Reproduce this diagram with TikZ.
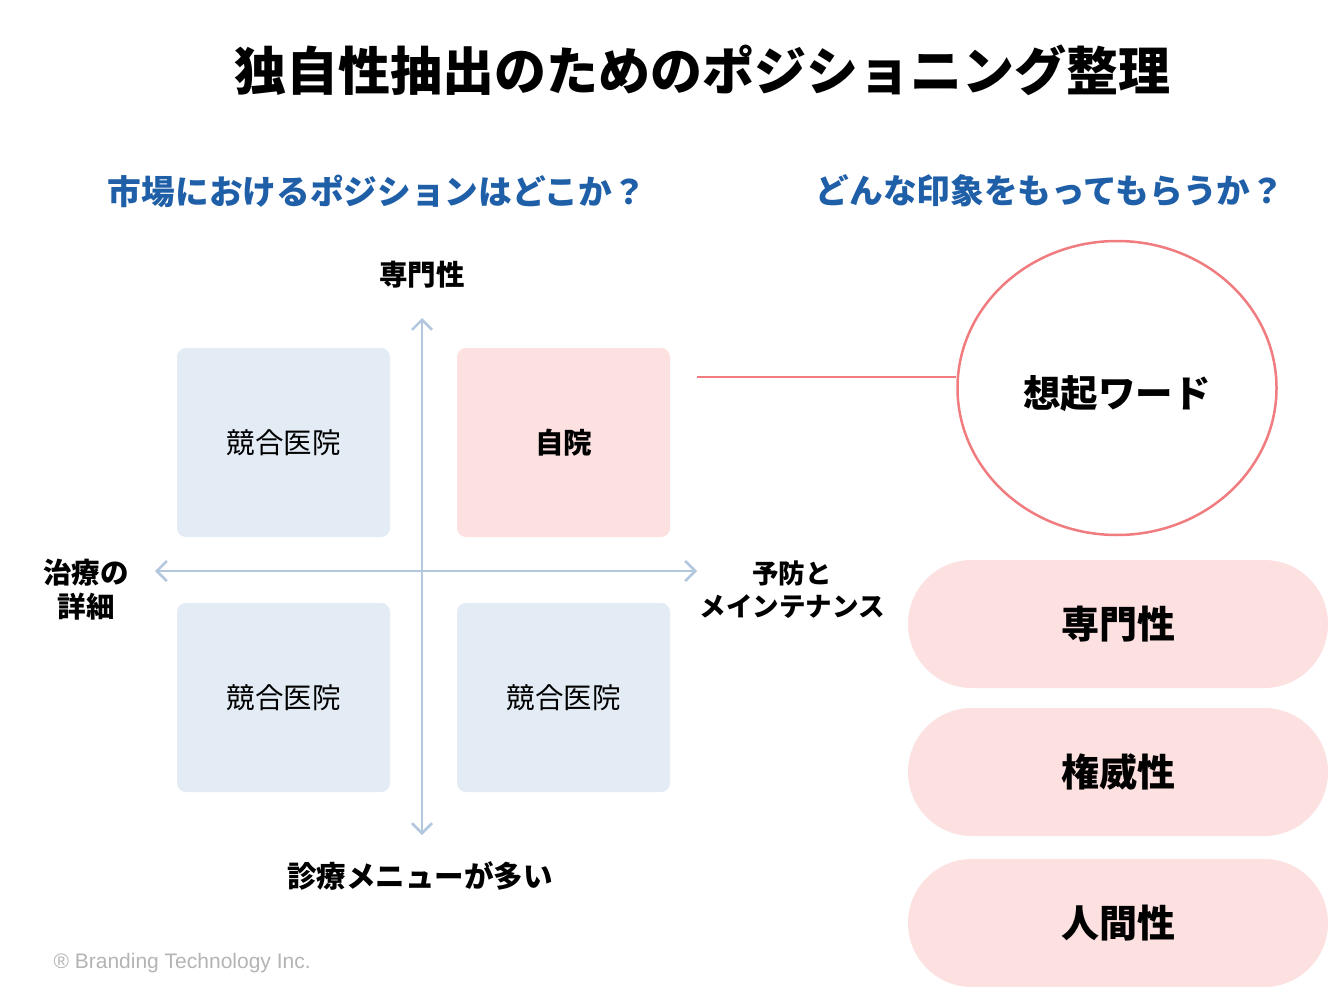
\documentclass[tikz,border=0pt]{standalone}
\usepackage{fontspec}
\setmainfont{Noto Sans CJK JP}
\newfontfamily\latinfont{Liberation Sans}
\usetikzlibrary{arrows.meta,shapes.geometric}
\definecolor{axisblue}{HTML}{B3C7DF}
\definecolor{boxblue}{HTML}{E3EBF5}
\definecolor{boxpink}{HTML}{FDE0E0}
\definecolor{linepink}{HTML}{F07C80}
\definecolor{subblue}{HTML}{1F5FA8}
\definecolor{copygray}{HTML}{B4B4B4}
\tikzset{
  quad/.style={rectangle, rounded corners=9pt, minimum width=213pt, minimum height=189pt, inner sep=0pt, font=\fontsize{28.5}{34}\selectfont},
  pill/.style={rectangle, rounded corners=64pt, fill=boxpink, minimum width=420pt, minimum height=128pt, inner sep=0pt, font=\fontsize{38}{44}\selectfont\bfseries},
  axis/.style={draw=axisblue, line width=2.6pt, {Straight Barb[length=10pt,width=20pt]}-{Straight Barb[length=10pt,width=20pt]}},
  axlabel/.style={font=\fontsize{28.5}{34}\selectfont\bfseries, align=center},
  subtitle/.style={text=subblue, font=\fontsize{33.7}{40}\selectfont\bfseries}
}
\begin{document}
\begin{tikzpicture}[x=1pt,y=-1pt]
\path[use as bounding box, fill=white] (0,0) rectangle (1338,987);
% title
\node[font=\fontsize{52}{60}\selectfont\bfseries] (title) at (702,70) {独自性抽出のためのポジショニング整理};
\node[subtitle] (subL) at (377,191) {市場におけるポジションはどこか？};
\node[subtitle] (subR) at (1050,191) {どんな印象をもってもらうか？};
% quadrants
\node[quad, fill=boxblue] (q1) at (283.5,442.5) {競合医院};
\node[quad, fill=boxpink, font=\fontsize{28.5}{34}\selectfont\bfseries] (q2) at (563.5,442.5) {自院};
\node[quad, fill=boxblue] (q3) at (283.5,697.5) {競合医院};
\node[quad, fill=boxblue] (q4) at (563.5,697.5) {競合医院};
% axes
\coordinate (axT) at (422,318);
\coordinate (axB) at (422,835);
\coordinate (axL) at (155,571);
\coordinate (axR) at (697,571);
\draw[axis] (axB) -- (axT);
\draw[axis] (axL) -- (axR);
% axis labels
\node[axlabel] (labT) at (422,275) {専門性};
\node[axlabel, font=\fontsize{29.5}{34}\selectfont\bfseries] (labB) at (420,876) {診療メニューが多い};
\node[axlabel] (labL) at (86,590) {治療の\\詳細};
\node[axlabel, font=\fontsize{26.5}{33}\selectfont\bfseries] (labR) at (792,590) {予防と\\メインテナンス};
% circle
\node[ellipse, draw=linepink, line width=2.5pt, fill=white, minimum width=319pt, minimum height=294pt, inner sep=0pt] (circ) at (1117,388) {};
\node[font=\fontsize{37.5}{44}\selectfont\bfseries] (circT) at (1117,394) {想起ワード};
\coordinate (lineStart) at (697,377);
\draw[linepink, line width=2.5pt] (lineStart) -- (lineStart -| circ.west);
% pills
\node[pill] (p1) at (1118,624) {専門性};
\node[pill] (p2) at (1118,772) {権威性};
\node[pill] (p3) at (1118,923) {人間性};
% copyright
\node[anchor=west, text=copygray, font=\latinfont\fontsize{21}{25}\selectfont] (copy) at (50,963) {® Branding Technology Inc.};
\end{tikzpicture}
\end{document}
